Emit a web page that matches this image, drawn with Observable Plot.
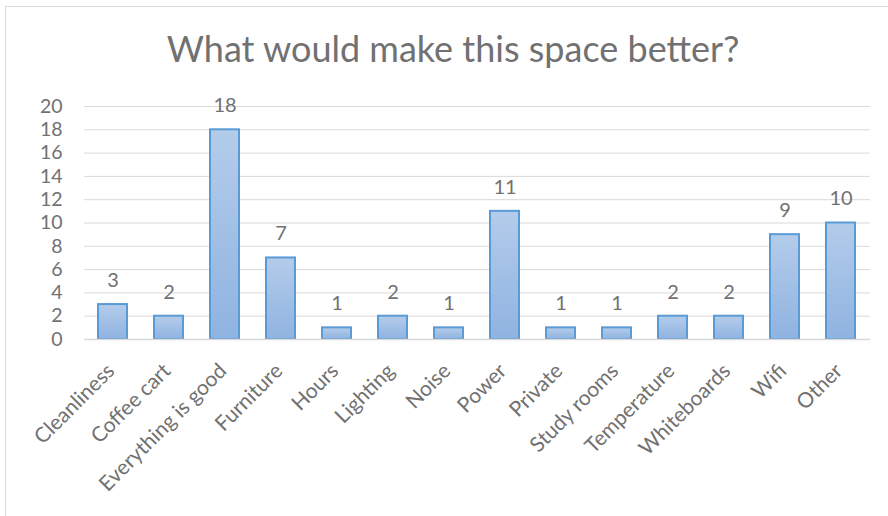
<!DOCTYPE html>
<html>
<head>
<meta charset="utf-8">
<script src="https://cdn.jsdelivr.net/npm/d3@7"></script>
<script src="https://cdn.jsdelivr.net/npm/@observablehq/plot@0.6"></script>
<style>
  html, body { margin: 0; padding: 0; background: #fff; }
  body { width: 888px; height: 516px; position: relative; overflow: hidden; font-family: Lato, sans-serif; }
  #frame { position: absolute; left: 5px; top: 6px; width: 1000px; height: 1000px; border-left: 1px solid #d9d9d9; border-top: 1px solid #d9d9d9; box-sizing: border-box; }
  #title { position: absolute; left: 153px; width: 600px; top: 25px; text-align: center; white-space: nowrap; font-size: 36px; line-height: 46px; color: #717171; font-family: Lato, sans-serif; }
  #chart { position: absolute; left: 0; top: 0; }
</style>
</head>
<body>
<div id="frame"></div>
<div id="chart"></div>
<div id="title">What would make this space better?</div>
<script>
const categories = ["Cleanliness", "Coffee cart", "Everything is good", "Furniture", "Hours", "Lighting", "Noise", "Power", "Private", "Study rooms", "Temperature", "Whiteboards", "Wifi", "Other"];
const counts = [3, 2, 18, 7, 1, 2, 1, 11, 1, 1, 2, 2, 9, 10];
const yTicks = [0, 2, 4, 6, 8, 10, 12, 14, 16, 18, 20];

const data = categories.map((c, i) => ({category: c, count: counts[i]}));

const chart = Plot.plot({
  width: 888,
  height: 516,
  marginLeft: 84,
  marginRight: 18,
  marginTop: 106,
  marginBottom: 177,
  style: {background: "transparent", fontFamily: "Lato, sans-serif", color: "#717171"},
  x: {domain: categories, paddingInner: 0.48, paddingOuter: 0.24, label: null},
  y: {domain: [0, 20], label: null},
  marks: [
    Plot.gridY(yTicks, {stroke: "#d9d9d9", strokeOpacity: 1, strokeWidth: 1}),
    Plot.barY(data, {x: "category", y: "count", fill: "url(#barGrad)", stroke: "#5b9bd5", strokeWidth: 2}),
    Plot.ruleY([0], {stroke: "#d9d9d9", strokeWidth: 1.5}),
    Plot.text(data, {x: "category", y: "count", text: d => String(d.count), dy: -24, lineAnchor: "middle", fontSize: 20, fill: "#717171"}),
    Plot.axisY(yTicks, {tickSize: 0, tickPadding: 22, fontSize: 19.5, fill: "#717171", label: null}),
    Plot.axisX({tickSize: 0, tickPadding: 28, dx: -2, tickRotate: -45, fontSize: 21, fill: "#717171", label: null})
  ]
});

const ns = "http://www.w3.org/2000/svg";
const defs = document.createElementNS(ns, "defs");
const grad = document.createElementNS(ns, "linearGradient");
grad.setAttribute("id", "barGrad");
grad.setAttribute("x1", "0"); grad.setAttribute("y1", "0");
grad.setAttribute("x2", "0"); grad.setAttribute("y2", "1");
[["0%", "#b4cceb"], ["100%", "#8fb3e0"]].forEach(([o, c]) => {
  const s = document.createElementNS(ns, "stop");
  s.setAttribute("offset", o); s.setAttribute("stop-color", c);
  grad.appendChild(s);
});
defs.appendChild(grad);
chart.insertBefore(defs, chart.firstChild);
document.getElementById("chart").appendChild(chart);
</script>
</body>
</html>
